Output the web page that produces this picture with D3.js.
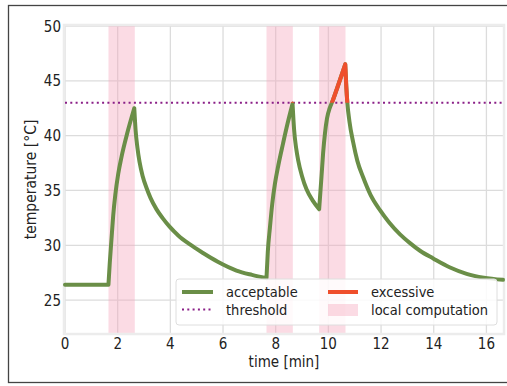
<!DOCTYPE html>
<html>
<head>
<meta charset="utf-8">
<script src="https://cdn.jsdelivr.net/npm/d3@7"></script>
<style>
  body { margin: 0; background: #fff; }
  text { font-family: "DejaVu Sans Condensed", "DejaVu Sans", sans-serif; fill: #222; }
</style>
</head>
<body>
<div id="chart"></div>
<script>
// readings from the picture
const timeMin = [0, 1.65, 1.70, 1.76, 1.83, 1.91, 2.02, 2.14, 2.35, 2.63,
  2.68, 2.75, 2.83, 2.95, 3.1, 3.25, 3.47, 3.7, 3.97, 4.3, 4.73, 5.24, 5.8, 6.51, 7.1, 7.65,
  7.70, 7.78, 7.87, 7.97, 8.1, 8.28, 8.45, 8.64,
  8.70, 8.78, 8.85, 9.0, 9.17, 9.4, 9.65,
  9.68, 9.74, 9.80, 9.87, 9.95, 10.05, 10.15, 10.4, 10.64,
  10.68, 10.72, 10.8, 10.94, 11.1, 11.32, 11.6, 11.96, 12.3, 12.72, 13.1, 13.48, 13.98, 14.6, 15.25, 15.9, 16.63];
const tempC = [26.4, 26.4, 28.4, 30.4, 32.7, 34.6, 36.5, 38.0, 40.1, 42.5,
  40.5, 38.9, 37.6, 36.3, 35.2, 34.3, 33.3, 32.5, 31.7, 30.9, 30.1, 29.3, 28.5, 27.7, 27.3, 27.0,
  29.4, 31.6, 33.8, 35.6, 37.3, 39.3, 41.1, 42.9,
  40.5, 38.8, 37.8, 36.3, 35.1, 34.1, 33.3,
  34.3, 36.3, 38.4, 40.2, 41.6, 42.5, 43.1, 44.8, 46.5,
  44.5, 43.0, 41.3, 39.4, 37.7, 36.2, 34.6, 33.2, 32.1, 31.0, 30.2, 29.5, 28.8, 28.0, 27.4, 27.05, 26.85];
const computeStart = [1.65, 7.65, 9.65];
const computeEnd = [2.65, 8.65, 10.65];
const threshold = 43;
const xTicks = [0, 2, 4, 6, 8, 10, 12, 14, 16];
const yTicks = [25, 30, 35, 40, 45, 50];

const width = 507, height = 386;
const margin = {left: 65, right: 4, top: 26, bottom: 53};
const green = "#6a8e47", red = "#ef4f2c", purple = "#8a1f87";

const svg = d3.select("#chart").append("svg")
  .attr("width", width).attr("height", height);

// outer frame of the figure
svg.append("rect").attr("x", 8.5).attr("y", 5.5).attr("width", 530).attr("height", 377)
  .attr("fill", "none").attr("stroke", "#444").attr("stroke-width", 1.3);

const x = d3.scaleLinear().domain([0, 16.63]).range([margin.left, width - margin.right]);
const y = d3.scaleLinear().domain([22, 50]).range([height - margin.bottom, margin.top]);

const data = timeMin.map((t, i) => ({t: t, v: tempC[i]}));

// split into monotone pieces at turning points so peaks stay sharp
const pieces = [];
let cur = [data[0]];
for (let i = 1; i < data.length; i++) {
  cur.push(data[i]);
  if (i < data.length - 1) {
    const a = data[i].v - data[i - 1].v, b = data[i + 1].v - data[i].v;
    if ((a > 0 && b <= 0) || (a < 0 && b >= 0) || (a === 0 && b !== 0)) {
      pieces.push(cur);
      cur = [data[i]];
    }
  }
}
pieces.push(cur);

// grid
svg.append("g").selectAll("line").data(xTicks).enter().append("line")
  .attr("x1", d => x(d)).attr("x2", d => x(d))
  .attr("y1", y(22)).attr("y2", y(50))
  .attr("stroke", "#dcdcdc").attr("stroke-width", 1.3);
svg.append("g").selectAll("line").data(yTicks).enter().append("line")
  .attr("x1", x(0)).attr("x2", x(16.63))
  .attr("y1", d => y(d)).attr("y2", d => y(d))
  .attr("stroke", "#dcdcdc").attr("stroke-width", 1.3);

// local computation spans
svg.append("g").selectAll("rect").data(computeStart).enter().append("rect")
  .attr("x", d => x(d))
  .attr("width", (d, i) => x(computeEnd[i]) - x(d))
  .attr("y", y(50)).attr("height", y(22) - y(50))
  .attr("fill", "#f4a6bb").attr("fill-opacity", 0.4);

// plot frame
svg.append("rect").attr("x", x(0) - 1).attr("y", y(50) - 1)
  .attr("width", x(16.63) - x(0) + 2).attr("height", y(22) - y(50) + 2)
  .attr("fill", "none").attr("stroke", "#ececec").attr("stroke-width", 2.5);

// threshold
svg.append("line").attr("x1", x(0)).attr("x2", x(16.63))
  .attr("y1", y(threshold)).attr("y2", y(threshold))
  .attr("stroke", purple).attr("stroke-width", 2).attr("stroke-dasharray", "2,3.3");

const line = d3.line().x(d => x(d.t)).y(d => y(d.v)).curve(d3.curveMonotoneX);
const pathD = pieces.map(p => line(p)).join("");

svg.append("path").attr("d", pathD)
  .attr("fill", "none").attr("stroke", green).attr("stroke-width", 4)
  .attr("stroke-linejoin", "round").attr("stroke-linecap", "round");

// excessive part: same line clipped above threshold
svg.append("clipPath").attr("id", "above").append("rect")
  .attr("x", x(0)).attr("y", y(50)).attr("width", x(16.63) - x(0)).attr("height", y(threshold) - y(50));
svg.append("path").attr("d", pathD)
  .attr("clip-path", "url(#above)")
  .attr("fill", "none").attr("stroke", red).attr("stroke-width", 4)
  .attr("stroke-linejoin", "round").attr("stroke-linecap", "round");

// axes labels
svg.append("g").selectAll("text").data(xTicks).enter().append("text")
  .attr("x", d => x(d)).attr("y", 349).attr("text-anchor", "middle")
  .attr("font-size", 15).text(d => d);
svg.append("g").selectAll("text").data(yTicks).enter().append("text")
  .attr("x", 61).attr("y", d => y(d) + 5.5).attr("text-anchor", "end")
  .attr("font-size", 15).text(d => d);

svg.append("text").attr("x", (x(0) + x(16.63)) / 2).attr("y", 367)
  .attr("text-anchor", "middle").attr("font-size", 15).text("time [min]");
svg.append("text").attr("transform", `translate(36,${(y(22) + y(50)) / 2}) rotate(-90)`)
  .attr("text-anchor", "middle").attr("font-size", 15.5).text("temperature [°C]");

// legend
const lg = svg.append("g");
lg.append("rect").attr("x", 176).attr("y", 279).attr("width", 321).attr("height", 46)
  .attr("rx", 3).attr("fill", "#fff").attr("fill-opacity", 0.85)
  .attr("stroke", "#dedede").attr("stroke-width", 1);
lg.append("line").attr("x1", 182).attr("x2", 213).attr("y1", 292).attr("y2", 292)
  .attr("stroke", green).attr("stroke-width", 4);
lg.append("line").attr("x1", 182).attr("x2", 213).attr("y1", 309.5).attr("y2", 309.5)
  .attr("stroke", purple).attr("stroke-width", 2).attr("stroke-dasharray", "2,3.3");
lg.append("line").attr("x1", 328).attr("x2", 358).attr("y1", 292).attr("y2", 292)
  .attr("stroke", red).attr("stroke-width", 4);
lg.append("rect").attr("x", 328).attr("y", 304).attr("width", 30).attr("height", 12)
  .attr("fill", "#f4a6bb").attr("fill-opacity", 0.4);
const legendText = [["acceptable", 226, 297], ["threshold", 226, 315], ["excessive", 371, 297], ["local computation", 371, 315]];
lg.selectAll("text.lab").data(legendText).enter().append("text")
  .attr("x", d => d[1]).attr("y", d => d[2]).attr("font-size", 14.5).text(d => d[0]);
</script>
</body>
</html>
